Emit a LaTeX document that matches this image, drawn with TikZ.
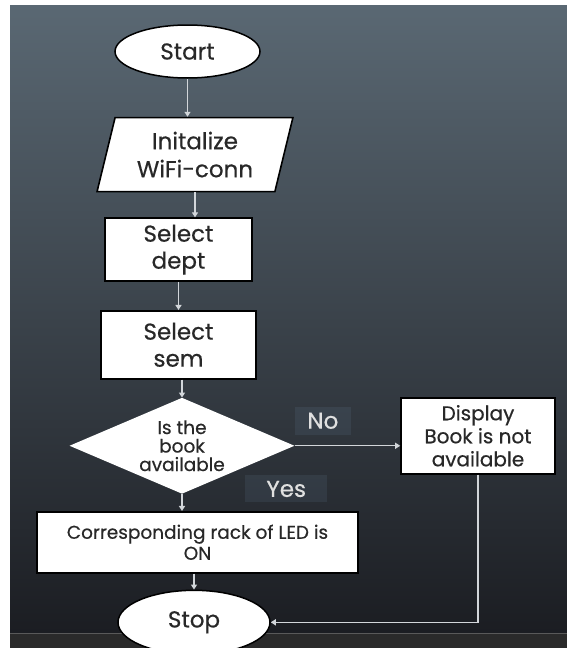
\documentclass[tikz,border=0pt]{standalone}
\usepackage{fontspec}
\setmainfont{Poppins}[FakeBold=0.5]
\usepackage{xcolor}
\usetikzlibrary{arrows.meta, shapes.geometric, positioning}
\definecolor{bgtop}{RGB}{90,104,115}
\definecolor{bgmid}{RGB}{58,68,77}
\definecolor{bgbot}{RGB}{27,29,34}
\definecolor{barc}{RGB}{42,42,42}
\definecolor{inktext}{RGB}{40,40,40}
\definecolor{linkc}{RGB}{210,214,218}
\definecolor{patchc}{RGB}{120,150,180}
\begin{document}
\begin{tikzpicture}[
    x=1pt, y=-1pt,
    terminal/.style={ellipse,draw=black,fill=white,line width=1.5pt,inner sep=0pt,text=inktext,font=\fontsize{23}{27}\selectfont},
    io/.style={trapezium,trapezium left angle=74,trapezium right angle=106,trapezium stretches=true,draw=black,fill=white,line width=1.6pt,inner sep=0pt,align=center,text=inktext,font=\fontsize{23}{28}\selectfont},
    process/.style={rectangle,draw=black,fill=white,line width=1.6pt,inner sep=0pt,align=center,text=inktext,font=\fontsize{23}{27}\selectfont},
    decision/.style={diamond,aspect=2.34,fill=white,inner sep=0pt,align=center,text=inktext,font=\fontsize{18.5}{18.5}\selectfont},
    lbl/.style={fill=patchc,fill opacity=0.12,text opacity=1,text=white!88!black,inner sep=0pt,font=\fontsize{23}{26}\selectfont},
    arrow/.style={-{Triangle[length=5pt,width=6pt]},draw=linkc,line width=1.3pt}
]
% backdrop
\useasboundingbox (0,0) rectangle (567,648);
\fill[white] (0,0) rectangle (567,648);
\shade[top color=bgtop, middle color=bgmid, bottom color=bgbot] (10,5) rectangle (567,633);
\fill[barc] (10,633) rectangle (567,648);
\draw[gray!70!black, line width=1pt] (10,633) -- (567,633);

\node[terminal,minimum width=145pt,minimum height=53pt] (start) at (187.5,51.5) {Start};
\node[io,minimum width=196pt,minimum height=74pt,below=38pt of start,xshift=7.5pt] (init) {Initalize\\WiFi-conn};
\node[process,minimum width=147pt,minimum height=63pt,below=25pt of init,xshift=-16.5pt] (dept) {Select\\dept};
\node[process,minimum width=155pt,minimum height=68pt,below=28pt of dept] (sem) {Select\\sem};
\node[decision,minimum width=225pt,minimum height=96pt,below=18pt of sem,xshift=3.5pt] (avail) {Is the\\book\\available};
\node[process,minimum width=321pt,minimum height=61pt,below=17pt of avail,xshift=15.5pt,font=\fontsize{18.5}{21}\selectfont] (rack) {Corresponding rack of LED is\\ON};
\node[terminal,minimum width=152pt,minimum height=64pt,below=16pt of rack,xshift=-3.5pt] (stop) {Stop};
\node[process,minimum width=154pt,minimum height=76pt,right=105.5pt of avail,yshift=10pt,font=\fontsize{20}{23}\selectfont] (disp) {Display\\Book is not\\available};
\node[lbl,minimum width=56pt,minimum height=28pt,right=0pt of avail.east,yshift=25pt] (no) {No};
\node[lbl,minimum width=82pt,minimum height=27pt,right=63pt of avail.south,yshift=5pt] (yes) {Yes};

\draw[arrow] (start.south) -- (start.south |- init.north);
\draw[arrow] (init.south) -- (init.south |- dept.north);
\draw[arrow] (dept.south) -- (dept.south |- sem.north);
\draw[arrow] (avail.north |- sem.south) -- (avail.north);
\draw[arrow] (avail.south) -- (avail.south |- rack.north);
\draw[arrow] (stop.north |- rack.south) -- (stop.north);
\draw[arrow] (avail.east) -- (avail.east -| disp.west);
\draw[arrow] (disp.south) |- (stop.east);
\end{tikzpicture}
\end{document}
